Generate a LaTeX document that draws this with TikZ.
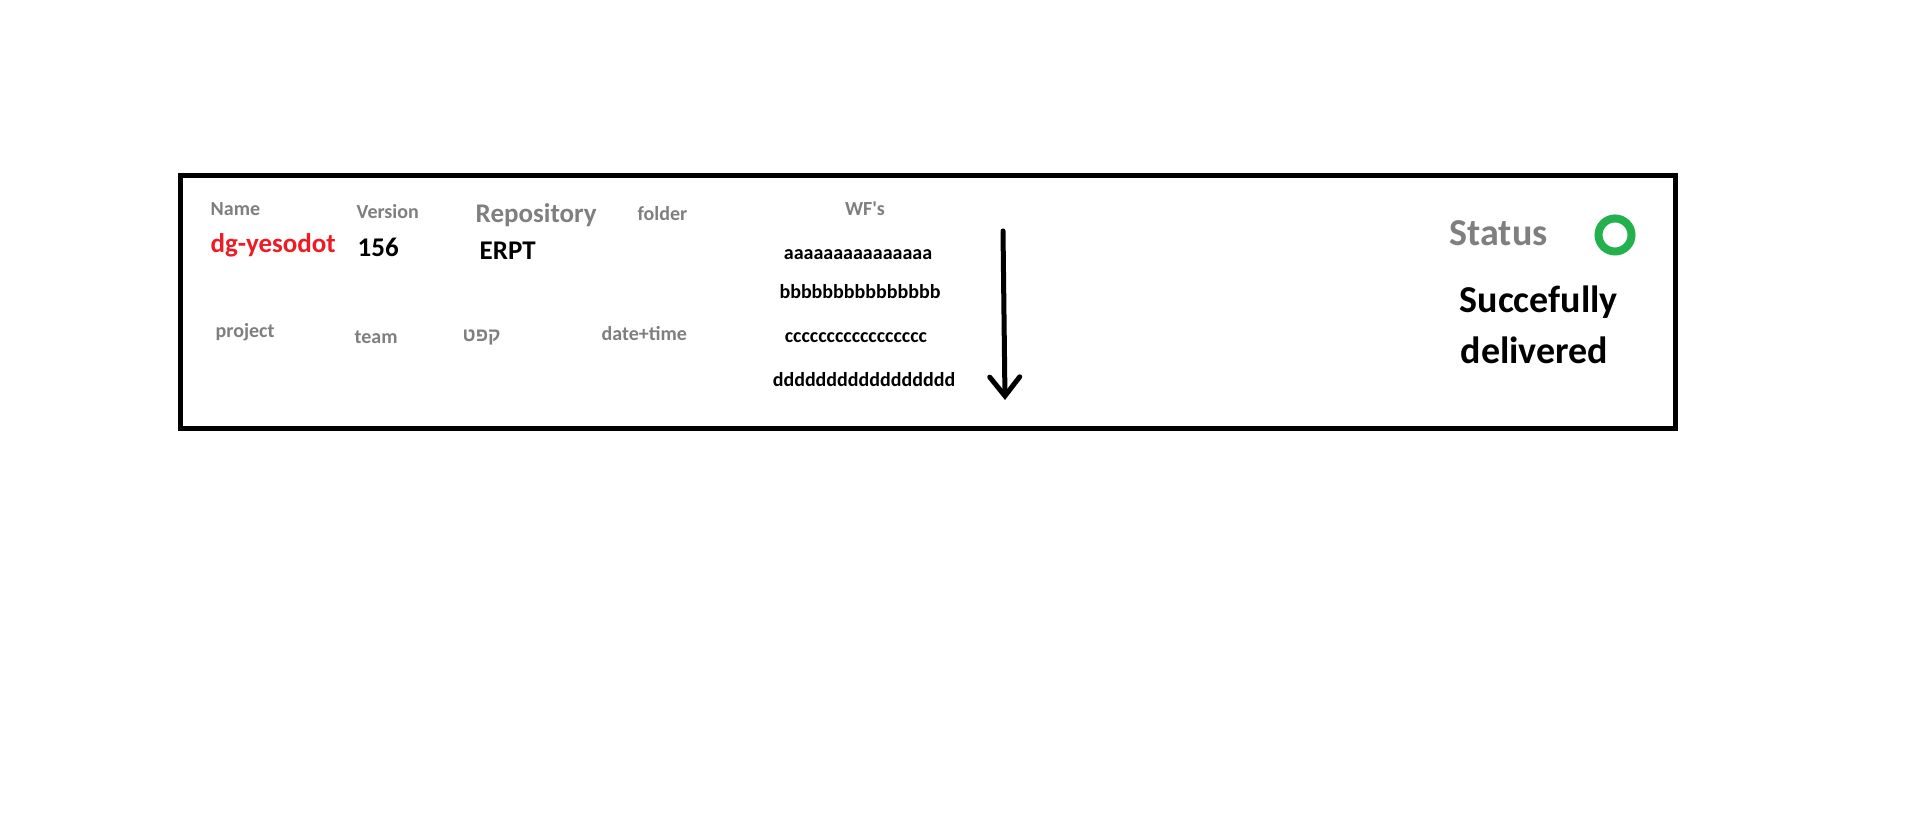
\documentclass[tikz,border=0pt]{standalone}
\usepackage{fontspec}
\setmainfont{Carlito}[Ligatures=TeXOff]
\newfontfamily\hebfont[Script=Hebrew]{Liberation Sans}
\TeXXeTstate=1
\usepackage{xcolor}
\usepackage{tikz}
\usetikzlibrary{arrows.meta}
\definecolor{labelgrey}{HTML}{7F7F7F}
\definecolor{namered}{HTML}{ED1C24}
\definecolor{okgreen}{HTML}{22B14C}
\definecolor{ink}{HTML}{000000}

\tikzset{
  small/.style={font=\fontsize{5.69}{6}\selectfont\bfseries,inner sep=0pt},
  mid/.style={font=\fontsize{7.68}{8}\selectfont\bfseries,inner sep=0pt},
  large/.style={font=\fontsize{10.81}{14}\selectfont\bfseries,inner sep=0pt},
  fieldname/.style={small,labelgrey,anchor=base west},
  fieldval/.style={mid,ink,anchor=base west},
  wfitem/.style={small,ink,anchor=base},
}

\begin{document}
\begin{tikzpicture}
  \useasboundingbox(0,0)rectangle(19.08,8.38);
  \fill[white](0,0)rectangle(19.08,8.38);
  % Card
  \draw[ink,line width=0.05cm](1.80,6.62)rectangle(16.75,4.09);
  % First row of fields
  \node[fieldname](fName)at(2.10,6.22){Name};
  \node[fieldname](fVersion)at(3.56,6.19){Version};
  \node[fieldname,mid](fRepo)at(4.75,6.15){Repository};
  \node[fieldname](fFolder)at(6.37,6.17){folder};
  \node[fieldval,namered](vName)at(2.10,5.85){dg-yesodot};
  \node[fieldval](vVersion)at(3.57,5.81){156};
  \node[fieldval](vRepo)at(4.79,5.78){ERPT};
  % Second row of fields
  \node[fieldname](fProject)at(2.15,5.00){project};
  \node[fieldname](fTeam)at(3.54,4.94){team};
  \node[fieldname,font=\fontsize{5.4}{6}\selectfont\bfseries\hebfont](fKapat)
    at(4.62,4.96){\beginR קפט\endR};
  \node[fieldname](fDate)at(6.01,4.97){date+time};
  % Workflows
  \node[small,labelgrey,anchor=base](fWF)at(8.65,6.22){WF's};
  \node[wfitem](wfA)at(8.58,5.78){aaaaaaaaaaaaaaa};
  \node[wfitem](wfB)at(8.60,5.39){bbbbbbbbbbbbbbb};
  \node[wfitem](wfC)at(8.56,4.95){ccccccccccccccccc};
  \node[wfitem](wfD)at(8.64,4.51){ddddddddddddddddd};
  \coordinate(wfTop)at(10.03,6.07);
  \coordinate(wfEnd)at(10.05,4.38);
  \draw[ink,line width=0.05cm,line cap=round,
    -{Straight Barb[length=0.19cm,width=0.30cm,line cap=round]}](wfTop)--(wfEnd);
  % Status
  \node[large,labelgrey,anchor=base west](fStatus)at(14.49,5.92){Status};
  \node[draw=okgreen,line width=0.08cm,circle,minimum size=0.33cm,inner sep=0pt]
    (statusDot)at(16.15,6.03){};
  \node[large,ink,anchor=base west](vStatusA)at(14.59,5.25){Succefully};
  \node[large,ink,anchor=base west](vStatusB)at(14.60,4.74){delivered};
\end{tikzpicture}
\end{document}
